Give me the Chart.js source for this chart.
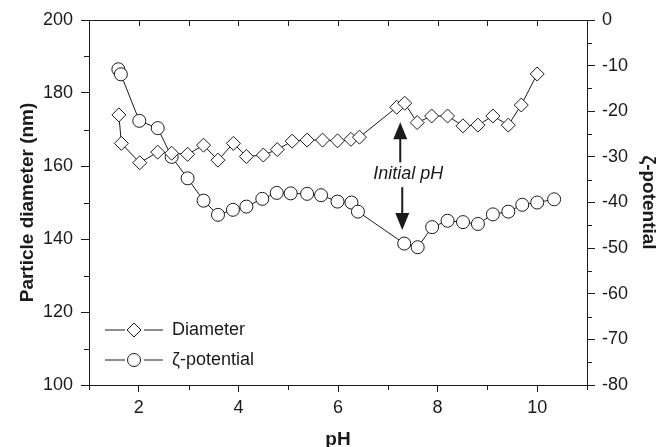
<!DOCTYPE html>
<html>
<head>
<meta charset="utf-8">
<script src="https://cdn.jsdelivr.net/npm/chart.js@4.4.1/dist/chart.umd.min.js"></script>
<style>
  html, body { margin: 0; padding: 0; background: #fff; }
  #wrap { width: 661px; height: 447px; }
</style>
</head>
<body>
<div id="wrap"><canvas id="chart" width="661" height="447"></canvas></div>
<script>
// values
var diamPH = [1.6, 1.65, 2.02, 2.38, 2.66, 2.98, 3.3, 3.59, 3.9, 4.16, 4.5, 4.78, 5.08, 5.38, 5.69, 5.99, 6.26, 6.43, 7.18, 7.34, 7.59, 7.88, 8.2, 8.51, 8.81, 9.11, 9.42, 9.68, 10.0];
var diamVals = [174, 166.2, 160.9, 163.8, 163.5, 163.2, 165.7, 161.6, 166.2, 162.6, 163, 164.5, 166.8, 167.1, 167.1, 166.9, 167.3, 167.9, 176.1, 177.2, 171.9, 173.7, 173.7, 171, 171.2, 173.7, 171.2, 176.7, 185.2];

var zetaPH = [1.59, 1.64, 2.01, 2.38, 2.66, 2.98, 3.3, 3.59, 3.89, 4.16, 4.48, 4.77, 5.05, 5.38, 5.66, 5.99, 6.27, 6.4, 7.33, 7.6, 7.89, 8.2, 8.51, 8.81, 9.11, 9.42, 9.7, 10.0, 10.34];
var zetaVals = [-10.8, -11.9, -22.1, -23.7, -30, -34.7, -39.6, -42.7, -41.6, -40.9, -39.2, -37.9, -38, -38.1, -38.4, -39.8, -40, -42, -49, -49.8, -45.4, -44, -44.3, -44.7, -42.6, -42, -40.5, -40, -39.3];

var xTicks = [2, 4, 6, 8, 10];
var leftTicks = [100, 120, 140, 160, 180, 200];
var rightTicks = [0, -10, -20, -30, -40, -50, -60, -70, -80];

var seriesNames = ['Diameter', '\u03B6-potential'];

var ink = '#1a1a1a';
var fontFam = "'Liberation Sans', Arial, sans-serif";

function pts(xs, ys) {
    return xs.map(function (x, i) { return { x: x, y: ys[i] }; });
}

function fixTicks(list) {
    return function (scale) {
        scale.ticks = list.map(function (v) { return { value: v }; });
    };
}

// frame, minor ticks, legend and the "Initial pH" note
var extras = {
    id: 'extras',
    afterDraw: function (chart) {
        var c = chart.ctx, a = chart.chartArea;
        var xs = chart.scales.x, yl = chart.scales.y, yr = chart.scales.y2;
        c.save();
        c.strokeStyle = ink;
        c.lineWidth = 1;

        // top border with inward ticks
        c.beginPath();
        c.moveTo(a.left, a.top + 0.5);
        c.lineTo(a.right, a.top + 0.5);
        for (var v = 1; v <= 11; v++) {
            var px = Math.round(xs.getPixelForValue(v)) + 0.5;
            c.moveTo(px, a.top);
            c.lineTo(px, a.top + 6);
        }
        // minor x ticks
        for (var m = 1; m <= 11; m += 2) {
            var mx = Math.round(xs.getPixelForValue(m)) + 0.5;
            c.moveTo(mx, a.bottom);
            c.lineTo(mx, a.bottom + 5);
        }
        // minor left ticks
        for (var l = 110; l < 200; l += 20) {
            var ly = Math.round(yl.getPixelForValue(l)) + 0.5;
            c.moveTo(a.left, ly);
            c.lineTo(a.left - 5, ly);
        }
        // minor right ticks
        for (var r = -5; r > -80; r -= 10) {
            var ry = Math.round(yr.getPixelForValue(r)) + 0.5;
            c.moveTo(a.right, ry);
            c.lineTo(a.right + 5, ry);
        }
        c.stroke();

        // legend
        c.font = '18px ' + fontFam;
        c.textBaseline = 'middle';
        c.fillStyle = ink;
        var styles = ['rectRot', 'circle'];
        var radii = [7, 6.5];
        for (var i = 0; i < 2; i++) {
            var ly2 = a.bottom - 55 + i * 30;
            var lx = a.left + 16;
            c.beginPath();
            c.moveTo(lx, ly2);
            c.lineTo(lx + 20, ly2);
            c.moveTo(lx + 39, ly2);
            c.lineTo(lx + 58, ly2);
            c.stroke();
            c.fillStyle = '#fff';
            c.beginPath();
            Chart.helpers.drawPoint(c, { pointStyle: styles[i], radius: radii[i], borderWidth: 1 }, lx + 29, ly2);
            c.fillStyle = ink;
            c.fillText(seriesNames[i], lx + 67, ly2);
        }

        // Initial pH note with arrows
        var nx = xs.getPixelForValue(7.25);
        c.font = 'italic 18px ' + fontFam;
        c.textAlign = 'center';
        c.fillText('Initial pH', nx + 8, yl.getPixelForValue(157.8));
        c.lineWidth = 2;
        var upTip = yl.getPixelForValue(172), upBase = yl.getPixelForValue(161);
        c.beginPath();
        c.moveTo(nx, upBase);
        c.lineTo(nx, upTip + 12);
        c.stroke();
        c.beginPath();
        c.moveTo(nx, upTip);
        c.lineTo(nx - 7, upTip + 17);
        c.lineTo(nx + 7, upTip + 17);
        c.closePath();
        c.fill();
        var dx = nx + 2;
        var dnTop = yl.getPixelForValue(154.2), dnTip = yl.getPixelForValue(142.5);
        c.beginPath();
        c.moveTo(dx, dnTop);
        c.lineTo(dx, dnTip - 12);
        c.stroke();
        c.beginPath();
        c.moveTo(dx, dnTip);
        c.lineTo(dx - 7, dnTip - 17);
        c.lineTo(dx + 7, dnTip - 17);
        c.closePath();
        c.fill();
        c.restore();
    }
};

var tickFont = { family: fontFam, size: 18 };
var titleFont = { family: fontFam, size: 19, weight: 'bold' };

new Chart(document.getElementById('chart').getContext('2d'), {
    type: 'line',
    data: {
        datasets: [{
            label: seriesNames[0],
            data: pts(diamPH, diamVals),
            yAxisID: 'y',
            borderColor: ink,
            borderWidth: 1,
            backgroundColor: '#fff',
            pointStyle: 'rectRot',
            pointRadius: 7,
            pointBorderWidth: 1,
            pointBackgroundColor: '#fff',
            pointBorderColor: ink,
        }, {
            label: seriesNames[1],
            data: pts(zetaPH, zetaVals),
            yAxisID: 'y2',
            borderColor: ink,
            borderWidth: 1,
            backgroundColor: '#fff',
            pointStyle: 'circle',
            pointRadius: 6.5,
            pointBorderWidth: 1,
            pointBackgroundColor: '#fff',
            pointBorderColor: ink,
        }],
    },
    options: {
        responsive: false,
        animation: false,
        layout: { padding: { top: 20 } },
        plugins: {
            legend: { display: false },
            tooltip: { enabled: false },
        },
        scales: {
            x: {
                type: 'linear',
                min: 1,
                max: 11,
                afterBuildTicks: fixTicks(xTicks),
                afterFit: function (s) { s.height = 62; },
                grid: { drawOnChartArea: false, color: ink, tickLength: 7 },
                border: { color: ink, width: 1 },
                ticks: { color: ink, font: tickFont, padding: 5, maxRotation: 0 },
                title: { display: true, text: 'pH', color: ink, font: titleFont, padding: { bottom: -4 } },
            },
            y: {
                position: 'left',
                min: 100,
                max: 200,
                afterBuildTicks: fixTicks(leftTicks),
                afterFit: function (s) { s.width = 89; },
                grid: { drawOnChartArea: false, color: ink, tickLength: 8 },
                border: { color: ink, width: 1 },
                ticks: { color: ink, font: tickFont, padding: 8 },
                title: { display: true, text: 'Particle diameter (nm)', color: ink, font: titleFont, padding: { top: 16 } },
            },
            y2: {
                position: 'right',
                min: -80,
                max: 0,
                afterBuildTicks: fixTicks(rightTicks),
                afterFit: function (s) { s.width = 74; },
                grid: { drawOnChartArea: false, color: ink, tickLength: 8 },
                border: { color: ink, width: 1 },
                ticks: { color: ink, font: tickFont, padding: 7 },
                title: { display: true, text: '\u03B6-potential', color: ink, font: titleFont, padding: { top: 1 } },
            },
        },
    },
    plugins: [extras],
});
</script>
</body>
</html>
